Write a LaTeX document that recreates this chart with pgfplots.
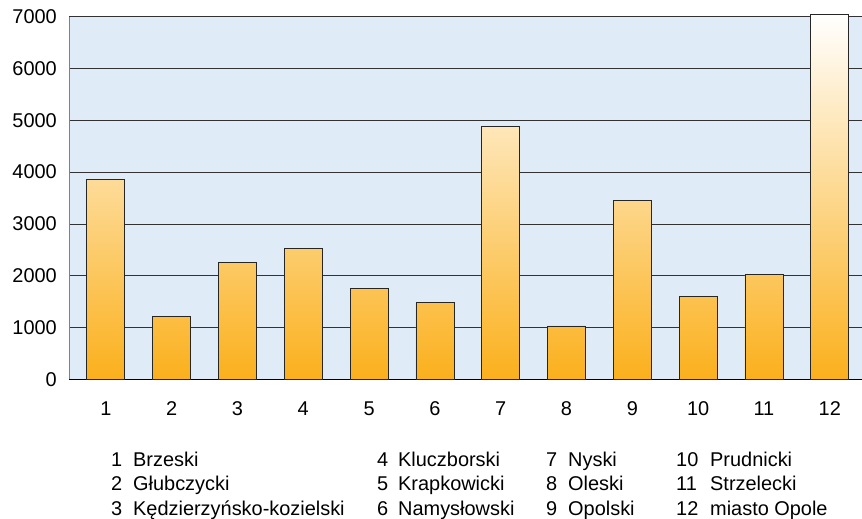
\documentclass[border=0pt]{standalone}
\usepackage{pgfplots}
\pgfplotsset{compat=1.18}
\usepackage{fontspec}
\setmainfont{Liberation Sans}
\definecolor{bg}{RGB}{223,235,247}
\definecolor{barorange}{RGB}{251,176,28}
\definecolor{gridc}{RGB}{50,50,50}
\begin{document}
\begin{tikzpicture}[x=1bp,y=1bp]
\useasboundingbox (0,0) rectangle (862,-519);
\begin{axis}[
  at={(69bp,-379.3bp)}, anchor=south west,
  scale only axis, width=793bp, height=362.6bp,
  xmin=0.44, xmax=12.49, ymin=0, ymax=7000,
  clip=false,
  xtick={1,...,12}, ytick={0,1000,...,7000},
  ymajorgrids, grid style={gridc, line width=0.8pt},
  axis background/.style={fill=bg},
  axis x line*=bottom, axis y line*=left,
  x axis line style={black, line width=0.9pt, -},
  y axis line style={black!50, line width=0.9pt, -},
  tick style={draw=none},
  /pgf/number format/assume math mode=true,
  /pgf/number format/1000 sep={},
  yticklabel style={font=\fontsize{20}{20}\selectfont, anchor=east, inner sep=0pt, xshift=-12bp},
  xticklabel style={font=\fontsize{20}{20}\selectfont, anchor=base, inner sep=0pt, yshift=-32bp},
  ybar, bar width=38bp, bar shift=0pt,
]
\addplot[draw=black!85, line width=0.8pt, top color=white, middle color=barorange!40, bottom color=barorange]
 coordinates {(1,3850) (2,1220) (3,2260) (4,2530) (5,1755) (6,1485) (7,4890) (8,1030) (9,3460) (10,1600) (11,2030) (12,7050)};
\end{axis}
\begin{scope}[every node/.style={anchor=base west, inner sep=0pt, font=\fontsize{20}{20}\selectfont}]
\node at (111,-466) {1}; \node at (133,-466) {Brzeski};
\node at (111,-490.5) {2}; \node at (133,-490.5) {Głubczycki};
\node at (111,-515) {3}; \node at (133,-515) {Kędzierzyńsko-kozielski};
\node at (377,-466) {4}; \node at (398,-466) {Kluczborski};
\node at (377,-490.5) {5}; \node at (398,-490.5) {Krapkowicki};
\node at (377,-515) {6}; \node at (398,-515) {Namysłowski};
\node at (546,-466) {7}; \node at (568,-466) {Nyski};
\node at (546,-490.5) {8}; \node at (568,-490.5) {Oleski};
\node at (546,-515) {9}; \node at (568,-515) {Opolski};
\node at (676,-466) {10}; \node at (710,-466) {Prudnicki};
\node at (676,-490.5) {11}; \node at (710,-490.5) {Strzelecki};
\node at (676,-515) {12}; \node at (710,-515) {miasto Opole};
\end{scope}
\end{tikzpicture}
\end{document}
